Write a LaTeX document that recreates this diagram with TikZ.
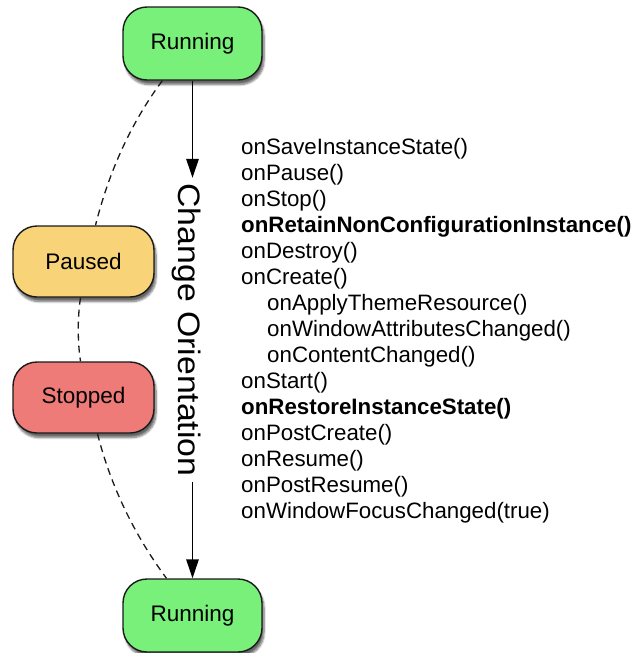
\documentclass[tikz,border=0pt]{standalone}
\usepackage{fontspec}
\setmainfont{Liberation Sans}
\usetikzlibrary{arrows.meta,shadows.blur}

\definecolor{runfill}{HTML}{78F07A}
\definecolor{pausefill}{HTML}{F8D378}
\definecolor{stopfill}{HTML}{EE7B78}
\definecolor{edge}{HTML}{1A1A1A}

\begin{document}
\begin{tikzpicture}[x=1pt,y=-1pt,
  state/.style={draw=edge, line width=1.4pt, rounded corners=24pt,
    inner sep=0pt, text=black, font=\fontsize{22.5}{26}\selectfont,
    blur shadow={shadow xshift=2pt, shadow yshift=-4.5pt,
      shadow blur steps=7, shadow opacity=60}},
  wide/.style={minimum width=139pt, minimum height=73pt},
  narrow/.style={minimum width=141pt, minimum height=71pt},
  flow/.style={draw=black, line width=1.4pt,
    -{Triangle[length=19pt,width=12.5pt]}},
  track/.style={draw=edge, line width=1.3pt, dash pattern=on 7pt off 5pt}
]
\useasboundingbox (0,0) rectangle (639,653);

% states
\node[state, wide, fill=runfill]    (run1)    at (192.5,43.5)  {Running};
\node[state, narrow, fill=pausefill] (paused) at (83.5,261.5)  {Paused};
\node[state, narrow, fill=stopfill]  (stopped) at (83.5,397.5) {Stopped};
\node[state, wide, fill=runfill]    (run2)    at (192.5,615.5) {Running};

% dashed arc through the intermediate states
\draw[track] ([xshift=40pt]run1.south west)
  .. controls +(-32,43) and +(13,-52) .. ([xshift=12pt]paused.north);
\draw[track] ([xshift=-3pt]paused.south)
  .. controls +(-3,20) and +(-3,-20) .. ([xshift=-3pt]stopped.north);
\draw[track] ([xshift=14pt]stopped.south)
  .. controls +(13,52) and +(-32,-43) .. ([xshift=-26pt]run2.north);

% orientation change label on the main arrow
\node[font=\fontsize{31}{36}\selectfont, rotate=-90, xscale=1.09,
  anchor=base, inner xsep=5pt, inner ysep=0pt] (lbl) at (178,330)
  {Change Orientation};

\draw[flow] (run1.south) -- (run1.south |- lbl.west);
\draw[flow] (run2.north |- lbl.east) -- (run2.north);

% callback sequence
\node[anchor=north west, align=left, inner sep=0pt,
  font=\fontsize{22.3}{26}\selectfont] (calls) at (241,138.5) {%
onSaveInstanceState()\\
onPause()\\
onStop()\\
\textbf{onRetainNonConfigurationInstance()}\\
onDestroy()\\
onCreate()\\
\hspace*{26pt}onApplyThemeResource()\\
\hspace*{26pt}onWindowAttributesChanged()\\
\hspace*{26pt}onContentChanged()\\
onStart()\\
\textbf{onRestoreInstanceState()}\\
onPostCreate()\\
onResume()\\
onPostResume()\\
onWindowFocusChanged(true)};
\end{tikzpicture}
\end{document}
